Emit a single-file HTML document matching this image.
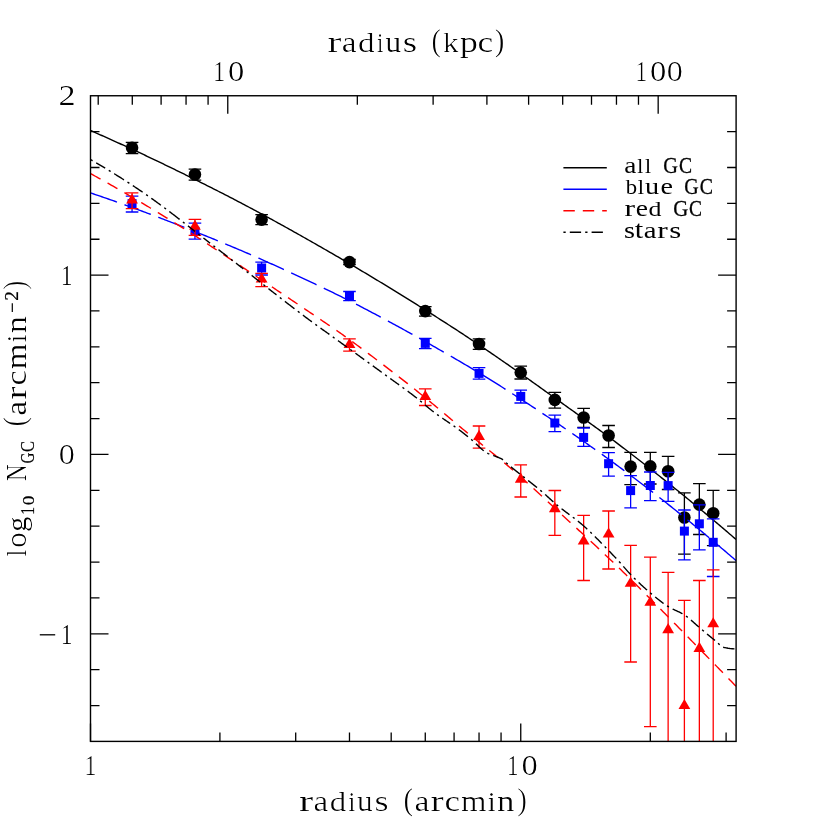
<!DOCTYPE html><html lang="en"><head><meta charset="utf-8"><title>GC radial profiles</title>
<style>html,body{margin:0;padding:0;background:#fff}svg{display:block;will-change:transform}text{font-family:"Liberation Serif",serif}</style></head><body>
<svg width="830" height="830" viewBox="0 0 830 830">
<rect width="830" height="830" fill="#fff"/>
<clipPath id="c"><rect x="90.5" y="95.75" width="645.6" height="645.65"/></clipPath>
<g clip-path="url(#c)" fill="none" stroke-width="1.4">
<g stroke-width="1.3"><path d="M132.06 142.40V153.60M125.76 142.40h12.6M125.76 153.60h12.6" stroke="#000"/><circle cx="132.06" cy="147.80" r="6.3" fill="#000"/><path d="M194.95 169.20V180.20M188.65 169.20h12.6M188.65 180.20h12.6" stroke="#000"/><circle cx="194.95" cy="174.50" r="6.3" fill="#000"/><path d="M261.62 214.60V224.70M255.32 214.60h12.6M255.32 224.70h12.6" stroke="#000"/><circle cx="261.62" cy="219.60" r="6.3" fill="#000"/><path d="M349.48 259.50V264.70M343.18 259.50h12.6M343.18 264.70h12.6" stroke="#000"/><circle cx="349.48" cy="262.10" r="6.3" fill="#000"/><path d="M425.27 306.60V316.20M418.97 306.60h12.6M418.97 316.20h12.6" stroke="#000"/><circle cx="425.27" cy="311.10" r="6.3" fill="#000"/><path d="M479.04 338.80V349.30M472.74 338.80h12.6M472.74 349.30h12.6" stroke="#000"/><circle cx="479.04" cy="344.00" r="6.3" fill="#000"/><path d="M520.75 366.10V379.00M514.45 366.10h12.6M514.45 379.00h12.6" stroke="#000"/><circle cx="520.75" cy="372.60" r="6.3" fill="#000"/><path d="M554.83 392.30V408.10M548.53 392.30h12.6M548.53 408.10h12.6" stroke="#000"/><circle cx="554.83" cy="399.90" r="6.3" fill="#000"/><path d="M583.64 408.30V427.30M577.34 408.30h12.6M577.34 427.30h12.6" stroke="#000"/><circle cx="583.64" cy="417.50" r="6.3" fill="#000"/><path d="M608.60 425.50V447.50M602.30 425.50h12.6M602.30 447.50h12.6" stroke="#000"/><circle cx="608.60" cy="435.50" r="6.3" fill="#000"/><path d="M630.62 452.30V484.70M624.32 452.30h12.6M624.32 484.70h12.6" stroke="#000"/><circle cx="630.62" cy="466.60" r="6.3" fill="#000"/><path d="M650.31 452.30V484.00M644.01 452.30h12.6M644.01 484.00h12.6" stroke="#000"/><circle cx="650.31" cy="466.40" r="6.3" fill="#000"/><path d="M668.13 456.40V489.50M661.83 456.40h12.6M661.83 489.50h12.6" stroke="#000"/><circle cx="668.13" cy="471.20" r="6.3" fill="#000"/><path d="M684.39 492.80V554.10M678.09 492.80h12.6M678.09 554.10h12.6" stroke="#000"/><circle cx="684.39" cy="517.50" r="6.3" fill="#000"/><path d="M699.35 483.60V534.50M693.05 483.60h12.6M693.05 534.50h12.6" stroke="#000"/><circle cx="699.35" cy="504.60" r="6.3" fill="#000"/><path d="M713.21 490.40V545.60M706.91 490.40h12.6M706.91 545.60h12.6" stroke="#000"/><circle cx="713.21" cy="513.20" r="6.3" fill="#000"/></g>
<path d="M90.50 130.50L92.12 131.21L93.74 131.92L95.35 132.63L96.97 133.34L98.59 134.06L100.21 134.77L101.83 135.49L103.44 136.21L105.06 136.93L106.68 137.66L108.30 138.38L109.92 139.11L111.53 139.84L113.15 140.57L114.77 141.30L116.39 142.03L118.01 142.77L119.62 143.50L121.24 144.24L122.86 144.98L124.48 145.72L126.10 146.46L127.72 147.21L129.33 147.96L130.95 148.70L132.57 149.45L134.19 150.20L135.81 150.96L137.42 151.71L139.04 152.47L140.66 153.22L142.28 153.98L143.90 154.74L145.51 155.50L147.13 156.27L148.75 157.03L150.37 157.80L151.99 158.57L153.60 159.33L155.22 160.11L156.84 160.88L158.46 161.65L160.08 162.43L161.69 163.20L163.31 163.98L164.93 164.76L166.55 165.54L168.17 166.32L169.78 167.11L171.40 167.89L173.02 168.68L174.64 169.47L176.26 170.26L177.87 171.05L179.49 171.84L181.11 172.63L182.73 173.43L184.35 174.22L185.96 175.02L187.58 175.82L189.20 176.62L190.82 177.42L192.44 178.22L194.05 179.03L195.67 179.83L197.29 180.64L198.91 181.45L200.53 182.26L202.15 183.07L203.76 183.88L205.38 184.70L207.00 185.51L208.62 186.33L210.24 187.14L211.85 187.96L213.47 188.78L215.09 189.60L216.71 190.42L218.33 191.25L219.94 192.07L221.56 192.90L223.18 193.73L224.80 194.56L226.42 195.39L228.03 196.22L229.65 197.06L231.27 197.90L232.89 198.74L234.51 199.58L236.12 200.43L237.74 201.27L239.36 202.12L240.98 202.97L242.60 203.82L244.21 204.68L245.83 205.53L247.45 206.39L249.07 207.25L250.69 208.11L252.30 208.98L253.92 209.84L255.54 210.71L257.16 211.58L258.78 212.45L260.39 213.32L262.01 214.20L263.63 215.07L265.25 215.95L266.87 216.83L268.48 217.71L270.10 218.59L271.72 219.48L273.34 220.36L274.96 221.25L276.58 222.14L278.19 223.03L279.81 223.92L281.43 224.82L283.05 225.71L284.67 226.61L286.28 227.51L287.90 228.41L289.52 229.31L291.14 230.21L292.76 231.12L294.37 232.02L295.99 232.93L297.61 233.84L299.23 234.75L300.85 235.66L302.46 236.57L304.08 237.49L305.70 238.40L307.32 239.32L308.94 240.24L310.55 241.16L312.17 242.08L313.79 243.00L315.41 243.92L317.03 244.85L318.64 245.77L320.26 246.70L321.88 247.63L323.50 248.56L325.12 249.49L326.73 250.42L328.35 251.35L329.97 252.28L331.59 253.22L333.21 254.15L334.82 255.09L336.44 256.03L338.06 256.97L339.68 257.92L341.30 258.86L342.92 259.81L344.53 260.75L346.15 261.70L347.77 262.65L349.39 263.61L351.01 264.56L352.62 265.51L354.24 266.47L355.86 267.43L357.48 268.39L359.10 269.35L360.71 270.31L362.33 271.28L363.95 272.25L365.57 273.21L367.19 274.18L368.80 275.15L370.42 276.12L372.04 277.10L373.66 278.07L375.28 279.05L376.89 280.03L378.51 281.01L380.13 281.99L381.75 282.97L383.37 283.96L384.98 284.94L386.60 285.93L388.22 286.92L389.84 287.91L391.46 288.90L393.07 289.89L394.69 290.88L396.31 291.88L397.93 292.88L399.55 293.88L401.16 294.88L402.78 295.88L404.40 296.88L406.02 297.88L407.64 298.89L409.25 299.90L410.87 300.90L412.49 301.91L414.11 302.93L415.73 303.94L417.35 304.95L418.96 305.97L420.58 306.98L422.20 308.00L423.82 309.02L425.44 310.04L427.05 311.06L428.67 312.09L430.29 313.11L431.91 314.14L433.53 315.17L435.14 316.19L436.76 317.22L438.38 318.26L440.00 319.29L441.62 320.32L443.23 321.36L444.85 322.39L446.47 323.43L448.09 324.47L449.71 325.51L451.32 326.55L452.94 327.60L454.56 328.65L456.18 329.70L457.80 330.76L459.41 331.82L461.03 332.88L462.65 333.95L464.27 335.01L465.89 336.09L467.50 337.16L469.12 338.24L470.74 339.32L472.36 340.40L473.98 341.48L475.59 342.57L477.21 343.66L478.83 344.75L480.45 345.85L482.07 346.94L483.68 348.04L485.30 349.14L486.92 350.24L488.54 351.34L490.16 352.45L491.78 353.56L493.39 354.66L495.01 355.77L496.63 356.88L498.25 357.99L499.87 359.11L501.48 360.22L503.10 361.34L504.72 362.46L506.34 363.58L507.96 364.70L509.57 365.83L511.19 366.96L512.81 368.09L514.43 369.22L516.05 370.36L517.66 371.50L519.28 372.64L520.90 373.78L522.52 374.92L524.14 376.06L525.75 377.21L527.37 378.36L528.99 379.51L530.61 380.66L532.23 381.81L533.84 382.96L535.46 384.11L537.08 385.27L538.70 386.43L540.32 387.58L541.93 388.74L543.55 389.90L545.17 391.06L546.79 392.22L548.41 393.38L550.02 394.54L551.64 395.70L553.26 396.86L554.88 398.02L556.50 399.18L558.12 400.35L559.73 401.51L561.35 402.67L562.97 403.83L564.59 404.99L566.21 406.15L567.82 407.31L569.44 408.47L571.06 409.62L572.68 410.78L574.30 411.94L575.91 413.10L577.53 414.25L579.15 415.41L580.77 416.57L582.39 417.73L584.00 418.90L585.62 420.06L587.24 421.22L588.86 422.39L590.48 423.56L592.09 424.73L593.71 425.90L595.33 427.08L596.95 428.25L598.57 429.43L600.18 430.62L601.80 431.80L603.42 432.99L605.04 434.18L606.66 435.38L608.27 436.58L609.89 437.78L611.51 438.99L613.13 440.20L614.75 441.42L616.36 442.64L617.98 443.86L619.60 445.10L621.22 446.33L622.84 447.57L624.45 448.81L626.07 450.05L627.69 451.29L629.31 452.53L630.93 453.78L632.55 455.03L634.16 456.28L635.78 457.53L637.40 458.78L639.02 460.04L640.64 461.30L642.25 462.56L643.87 463.82L645.49 465.08L647.11 466.35L648.73 467.62L650.34 468.89L651.96 470.16L653.58 471.44L655.20 472.71L656.82 473.99L658.43 475.27L660.05 476.55L661.67 477.84L663.29 479.13L664.91 480.42L666.52 481.71L668.14 483.00L669.76 484.30L671.38 485.60L673.00 486.90L674.61 488.20L676.23 489.50L677.85 490.81L679.47 492.12L681.09 493.43L682.70 494.75L684.32 496.06L685.94 497.38L687.56 498.70L689.18 500.03L690.79 501.35L692.41 502.68L694.03 504.01L695.65 505.35L697.27 506.68L698.88 508.02L700.50 509.36L702.12 510.70L703.74 512.05L705.36 513.40L706.98 514.75L708.59 516.10L710.21 517.46L711.83 518.81L713.45 520.18L715.07 521.54L716.68 522.90L718.30 524.27L719.92 525.64L721.54 527.02L723.16 528.39L724.77 529.77L726.39 531.15L728.01 532.54L729.63 533.93L731.25 535.31L732.86 536.71L734.48 538.10L736.10 539.50" stroke="#000"/>
<g stroke-width="1.3"><path d="M132.06 196.10V212.00M125.76 196.10h12.6M125.76 212.00h12.6" stroke="#00f"/><rect x="127.56" y="199.10" width="9" height="9" fill="#00f"/><path d="M194.95 223.20V239.20M188.65 223.20h12.6M188.65 239.20h12.6" stroke="#00f"/><rect x="190.45" y="226.80" width="9" height="9" fill="#00f"/><path d="M261.62 262.10V275.00M255.32 262.10h12.6M255.32 275.00h12.6" stroke="#00f"/><rect x="257.12" y="263.50" width="9" height="9" fill="#00f"/><path d="M349.48 291.50V300.70M343.18 291.50h12.6M343.18 300.70h12.6" stroke="#00f"/><rect x="344.98" y="291.40" width="9" height="9" fill="#00f"/><path d="M425.27 338.30V348.60M418.97 338.30h12.6M418.97 348.60h12.6" stroke="#00f"/><rect x="420.77" y="338.90" width="9" height="9" fill="#00f"/><path d="M479.04 367.70V379.20M472.74 367.70h12.6M472.74 379.20h12.6" stroke="#00f"/><rect x="474.54" y="368.90" width="9" height="9" fill="#00f"/><path d="M520.75 390.10V403.00M514.45 390.10h12.6M514.45 403.00h12.6" stroke="#00f"/><rect x="516.25" y="391.90" width="9" height="9" fill="#00f"/><path d="M554.83 415.20V431.60M548.53 415.20h12.6M548.53 431.60h12.6" stroke="#00f"/><rect x="550.33" y="418.50" width="9" height="9" fill="#00f"/><path d="M583.64 428.00V446.30M577.34 428.00h12.6M577.34 446.30h12.6" stroke="#00f"/><rect x="579.14" y="432.90" width="9" height="9" fill="#00f"/><path d="M608.60 452.60V476.20M602.30 452.60h12.6M602.30 476.20h12.6" stroke="#00f"/><rect x="604.10" y="459.20" width="9" height="9" fill="#00f"/><path d="M630.62 475.70V507.90M624.32 475.70h12.6M624.32 507.90h12.6" stroke="#00f"/><rect x="626.12" y="486.10" width="9" height="9" fill="#00f"/><path d="M650.31 472.00V500.70M644.01 472.00h12.6M644.01 500.70h12.6" stroke="#00f"/><rect x="645.81" y="481.00" width="9" height="9" fill="#00f"/><path d="M668.13 472.40V501.30M661.83 472.40h12.6M661.83 501.30h12.6" stroke="#00f"/><rect x="663.63" y="481.10" width="9" height="9" fill="#00f"/><path d="M684.39 510.00V559.80M678.09 510.00h12.6M678.09 559.80h12.6" stroke="#00f"/><rect x="679.89" y="526.60" width="9" height="9" fill="#00f"/><path d="M699.35 504.80V549.90M693.05 504.80h12.6M693.05 549.90h12.6" stroke="#00f"/><rect x="694.85" y="519.30" width="9" height="9" fill="#00f"/><path d="M713.21 518.90V576.50M706.91 518.90h12.6M706.91 576.50h12.6" stroke="#00f"/><rect x="708.71" y="537.80" width="9" height="9" fill="#00f"/></g>
<path d="M90.50 192.90L92.12 193.45L93.74 193.99L95.35 194.54L96.97 195.09L98.59 195.65L100.21 196.20L101.83 196.76L103.44 197.32L105.06 197.88L106.68 198.44L108.30 199.00L109.92 199.57L111.53 200.14L113.15 200.71L114.77 201.28L116.39 201.85L118.01 202.42L119.62 203.00L121.24 203.58L122.86 204.16L124.48 204.74L126.10 205.32L127.72 205.90L129.33 206.49L130.95 207.08L132.57 207.67L134.19 208.26L135.81 208.85L137.42 209.45L139.04 210.04L140.66 210.64L142.28 211.24L143.90 211.84L145.51 212.44L147.13 213.04L148.75 213.65L150.37 214.26L151.99 214.86L153.60 215.47L155.22 216.09L156.84 216.70L158.46 217.31L160.08 217.93L161.69 218.55L163.31 219.16L164.93 219.78L166.55 220.41L168.17 221.03L169.78 221.65L171.40 222.28L173.02 222.91L174.64 223.54L176.26 224.17L177.87 224.80L179.49 225.43L181.11 226.06L182.73 226.70L184.35 227.34L185.96 227.98L187.58 228.62L189.20 229.26L190.82 229.90L192.44 230.54L194.05 231.19L195.67 231.83L197.29 232.48L198.91 233.13L200.53 233.78L202.15 234.43L203.76 235.08L205.38 235.74L207.00 236.39L208.62 237.05L210.24 237.71L211.85 238.36L213.47 239.02L215.09 239.68L216.71 240.35L218.33 241.01L219.94 241.67L221.56 242.34L223.18 243.01L224.80 243.68L226.42 244.34L228.03 245.02L229.65 245.69L231.27 246.37L232.89 247.05L234.51 247.73L236.12 248.41L237.74 249.10L239.36 249.79L240.98 250.48L242.60 251.17L244.21 251.87L245.83 252.56L247.45 253.26L249.07 253.96L250.69 254.67L252.30 255.37L253.92 256.08L255.54 256.79L257.16 257.50L258.78 258.22L260.39 258.93L262.01 259.65L263.63 260.37L265.25 261.09L266.87 261.82L268.48 262.54L270.10 263.27L271.72 264.00L273.34 264.73L274.96 265.46L276.58 266.19L278.19 266.93L279.81 267.67L281.43 268.40L283.05 269.14L284.67 269.89L286.28 270.63L287.90 271.37L289.52 272.12L291.14 272.87L292.76 273.62L294.37 274.37L295.99 275.12L297.61 275.87L299.23 276.63L300.85 277.39L302.46 278.14L304.08 278.90L305.70 279.66L307.32 280.42L308.94 281.18L310.55 281.95L312.17 282.71L313.79 283.48L315.41 284.24L317.03 285.01L318.64 285.78L320.26 286.55L321.88 287.32L323.50 288.09L325.12 288.86L326.73 289.64L328.35 290.41L329.97 291.19L331.59 291.96L333.21 292.74L334.82 293.53L336.44 294.32L338.06 295.11L339.68 295.90L341.30 296.70L342.92 297.51L344.53 298.31L346.15 299.12L347.77 299.94L349.39 300.75L351.01 301.58L352.62 302.40L354.24 303.23L355.86 304.06L357.48 304.89L359.10 305.73L360.71 306.57L362.33 307.41L363.95 308.26L365.57 309.11L367.19 309.96L368.80 310.81L370.42 311.66L372.04 312.52L373.66 313.37L375.28 314.23L376.89 315.09L378.51 315.95L380.13 316.82L381.75 317.68L383.37 318.55L384.98 319.42L386.60 320.29L388.22 321.17L389.84 322.04L391.46 322.92L393.07 323.80L394.69 324.68L396.31 325.56L397.93 326.45L399.55 327.33L401.16 328.22L402.78 329.11L404.40 330.00L406.02 330.89L407.64 331.79L409.25 332.68L410.87 333.58L412.49 334.48L414.11 335.38L415.73 336.28L417.35 337.19L418.96 338.09L420.58 339.00L422.20 339.91L423.82 340.82L425.44 341.73L427.05 342.64L428.67 343.56L430.29 344.47L431.91 345.39L433.53 346.31L435.14 347.23L436.76 348.15L438.38 349.07L440.00 350.00L441.62 350.92L443.23 351.85L444.85 352.78L446.47 353.71L448.09 354.64L449.71 355.58L451.32 356.51L452.94 357.44L454.56 358.38L456.18 359.32L457.80 360.26L459.41 361.21L461.03 362.15L462.65 363.10L464.27 364.05L465.89 365.00L467.50 365.96L469.12 366.92L470.74 367.88L472.36 368.84L473.98 369.81L475.59 370.77L477.21 371.75L478.83 372.72L480.45 373.70L482.07 374.68L483.68 375.67L485.30 376.65L486.92 377.65L488.54 378.64L490.16 379.64L491.78 380.64L493.39 381.65L495.01 382.66L496.63 383.67L498.25 384.69L499.87 385.71L501.48 386.74L503.10 387.77L504.72 388.80L506.34 389.83L507.96 390.86L509.57 391.89L511.19 392.93L512.81 393.97L514.43 395.01L516.05 396.05L517.66 397.09L519.28 398.14L520.90 399.19L522.52 400.24L524.14 401.29L525.75 402.34L527.37 403.39L528.99 404.45L530.61 405.51L532.23 406.57L533.84 407.63L535.46 408.70L537.08 409.76L538.70 410.83L540.32 411.90L541.93 412.98L543.55 414.05L545.17 415.13L546.79 416.21L548.41 417.29L550.02 418.37L551.64 419.46L553.26 420.55L554.88 421.64L556.50 422.73L558.12 423.82L559.73 424.92L561.35 426.02L562.97 427.12L564.59 428.22L566.21 429.33L567.82 430.44L569.44 431.55L571.06 432.66L572.68 433.78L574.30 434.89L575.91 436.01L577.53 437.13L579.15 438.26L580.77 439.39L582.39 440.52L584.00 441.65L585.62 442.78L587.24 443.92L588.86 445.06L590.48 446.20L592.09 447.35L593.71 448.49L595.33 449.64L596.95 450.79L598.57 451.95L600.18 453.11L601.80 454.27L603.42 455.43L605.04 456.60L606.66 457.76L608.27 458.93L609.89 460.11L611.51 461.28L613.13 462.46L614.75 463.64L616.36 464.83L617.98 466.02L619.60 467.21L621.22 468.40L622.84 469.59L624.45 470.79L626.07 472.00L627.69 473.20L629.31 474.41L630.93 475.62L632.55 476.84L634.16 478.06L635.78 479.28L637.40 480.50L639.02 481.73L640.64 482.96L642.25 484.19L643.87 485.43L645.49 486.67L647.11 487.91L648.73 489.16L650.34 490.41L651.96 491.66L653.58 492.91L655.20 494.17L656.82 495.43L658.43 496.69L660.05 497.96L661.67 499.23L663.29 500.50L664.91 501.78L666.52 503.05L668.14 504.33L669.76 505.62L671.38 506.91L673.00 508.19L674.61 509.49L676.23 510.78L677.85 512.08L679.47 513.38L681.09 514.68L682.70 515.99L684.32 517.30L685.94 518.61L687.56 519.93L689.18 521.24L690.79 522.56L692.41 523.89L694.03 525.21L695.65 526.54L697.27 527.87L698.88 529.21L700.50 530.54L702.12 531.88L703.74 533.22L705.36 534.57L706.98 535.92L708.59 537.27L710.21 538.62L711.83 539.97L713.45 541.33L715.07 542.69L716.68 544.05L718.30 545.42L719.92 546.79L721.54 548.16L723.16 549.53L724.77 550.90L726.39 552.28L728.01 553.66L729.63 555.04L731.25 556.43L732.86 557.82L734.48 559.21L736.10 560.60" stroke="#00f" stroke-dasharray="28 8.02"/>
<g stroke-width="1.3"><path d="M132.06 192.90V208.60M125.76 192.90h12.6M125.76 208.60h12.6" stroke="#f00"/><path d="M132.06 193.50L137.96 203.60H126.16Z" fill="#f00"/><path d="M194.95 219.40V235.30M188.65 219.40h12.6M188.65 235.30h12.6" stroke="#f00"/><path d="M194.95 219.70L200.85 229.80H189.05Z" fill="#f00"/><path d="M261.62 273.30V286.60M255.32 273.30h12.6M255.32 286.60h12.6" stroke="#f00"/><path d="M261.62 272.50L267.52 282.60H255.72Z" fill="#f00"/><path d="M349.48 338.90V351.20M343.18 338.90h12.6M343.18 351.20h12.6" stroke="#f00"/><path d="M349.48 337.90L355.38 348.00H343.58Z" fill="#f00"/><path d="M425.27 388.90V405.50M418.97 388.90h12.6M418.97 405.50h12.6" stroke="#f00"/><path d="M425.27 390.00L431.17 400.10H419.37Z" fill="#f00"/><path d="M479.04 426.00V448.20M472.74 426.00h12.6M472.74 448.20h12.6" stroke="#f00"/><path d="M479.04 429.80L484.94 439.90H473.14Z" fill="#f00"/><path d="M520.75 464.90V497.00M514.45 464.90h12.6M514.45 497.00h12.6" stroke="#f00"/><path d="M520.75 472.60L526.65 482.70H514.85Z" fill="#f00"/><path d="M554.83 490.50V535.30M548.53 490.50h12.6M548.53 535.30h12.6" stroke="#f00"/><path d="M554.83 502.10L560.73 512.20H548.93Z" fill="#f00"/><path d="M583.64 515.40V580.50M577.34 515.40h12.6M577.34 580.50h12.6" stroke="#f00"/><path d="M583.64 534.40L589.54 544.50H577.74Z" fill="#f00"/><path d="M608.60 511.00V569.00M602.30 511.00h12.6M602.30 569.00h12.6" stroke="#f00"/><path d="M608.60 527.50L614.50 537.60H602.70Z" fill="#f00"/><path d="M630.62 545.30V662.00M624.32 545.30h12.6M624.32 662.00h12.6" stroke="#f00"/><path d="M630.62 576.70L636.52 586.80H624.72Z" fill="#f00"/><path d="M650.31 557.20V726.60M644.01 557.20h12.6M644.01 726.60h12.6" stroke="#f00"/><path d="M650.31 595.70L656.21 605.80H644.41Z" fill="#f00"/><path d="M668.13 572.30V900.00M661.83 572.30h12.6M661.83 900.00h12.6" stroke="#f00"/><path d="M668.13 623.10L674.03 633.20H662.23Z" fill="#f00"/><path d="M684.39 600.30V900.00M678.09 600.30h12.6M678.09 900.00h12.6" stroke="#f00"/><path d="M684.39 699.00L690.29 709.10H678.49Z" fill="#f00"/><path d="M699.35 580.50V900.00M693.05 580.50h12.6M693.05 900.00h12.6" stroke="#f00"/><path d="M699.35 641.80L705.25 651.90H693.45Z" fill="#f00"/><path d="M713.21 569.90V900.00M706.91 569.90h12.6M706.91 900.00h12.6" stroke="#f00"/><path d="M713.21 617.20L719.11 627.30H707.31Z" fill="#f00"/></g>
<path d="M90.50 173.60L92.12 174.48L93.74 175.36L95.35 176.25L96.97 177.14L98.59 178.03L100.21 178.92L101.83 179.82L103.44 180.72L105.06 181.62L106.68 182.53L108.30 183.44L109.92 184.35L111.53 185.27L113.15 186.18L114.77 187.10L116.39 188.03L118.01 188.95L119.62 189.88L121.24 190.81L122.86 191.75L124.48 192.68L126.10 193.62L127.72 194.56L129.33 195.51L130.95 196.45L132.57 197.40L134.19 198.35L135.81 199.31L137.42 200.26L139.04 201.22L140.66 202.18L142.28 203.14L143.90 204.11L145.51 205.07L147.13 206.04L148.75 207.02L150.37 207.99L151.99 208.96L153.60 209.94L155.22 210.92L156.84 211.90L158.46 212.89L160.08 213.87L161.69 214.86L163.31 215.85L164.93 216.84L166.55 217.83L168.17 218.83L169.78 219.82L171.40 220.82L173.02 221.82L174.64 222.82L176.26 223.83L177.87 224.83L179.49 225.84L181.11 226.85L182.73 227.86L184.35 228.87L185.96 229.89L187.58 230.91L189.20 231.95L190.82 232.98L192.44 234.03L194.05 235.07L195.67 236.13L197.29 237.18L198.91 238.24L200.53 239.30L202.15 240.37L203.76 241.44L205.38 242.51L207.00 243.59L208.62 244.66L210.24 245.74L211.85 246.82L213.47 247.89L215.09 248.97L216.71 250.05L218.33 251.13L219.94 252.21L221.56 253.29L223.18 254.36L224.80 255.44L226.42 256.51L228.03 257.58L229.65 258.66L231.27 259.73L232.89 260.80L234.51 261.87L236.12 262.95L237.74 264.02L239.36 265.10L240.98 266.17L242.60 267.25L244.21 268.33L245.83 269.41L247.45 270.48L249.07 271.56L250.69 272.64L252.30 273.72L253.92 274.80L255.54 275.88L257.16 276.96L258.78 278.04L260.39 279.12L262.01 280.20L263.63 281.29L265.25 282.37L266.87 283.45L268.48 284.54L270.10 285.62L271.72 286.70L273.34 287.79L274.96 288.87L276.58 289.96L278.19 291.05L279.81 292.13L281.43 293.22L283.05 294.30L284.67 295.39L286.28 296.48L287.90 297.57L289.52 298.65L291.14 299.74L292.76 300.83L294.37 301.92L295.99 303.01L297.61 304.10L299.23 305.19L300.85 306.28L302.46 307.37L304.08 308.46L305.70 309.55L307.32 310.64L308.94 311.73L310.55 312.82L312.17 313.91L313.79 315.00L315.41 316.09L317.03 317.18L318.64 318.28L320.26 319.37L321.88 320.46L323.50 321.55L325.12 322.63L326.73 323.71L328.35 324.80L329.97 325.89L331.59 326.98L333.21 328.09L334.82 329.21L336.44 330.34L338.06 331.48L339.68 332.63L341.30 333.78L342.92 334.93L344.53 336.09L346.15 337.25L347.77 338.41L349.39 339.58L351.01 340.76L352.62 341.93L354.24 343.11L355.86 344.29L357.48 345.48L359.10 346.67L360.71 347.86L362.33 349.06L363.95 350.26L365.57 351.46L367.19 352.67L368.80 353.88L370.42 355.09L372.04 356.30L373.66 357.52L375.28 358.74L376.89 359.96L378.51 361.19L380.13 362.42L381.75 363.65L383.37 364.88L384.98 366.12L386.60 367.35L388.22 368.60L389.84 369.84L391.46 371.08L393.07 372.33L394.69 373.58L396.31 374.83L397.93 376.08L399.55 377.34L401.16 378.60L402.78 379.86L404.40 381.12L406.02 382.38L407.64 383.65L409.25 384.92L410.87 386.20L412.49 387.48L414.11 388.77L415.73 390.07L417.35 391.36L418.96 392.67L420.58 393.98L422.20 395.29L423.82 396.61L425.44 397.93L427.05 399.25L428.67 400.57L430.29 401.90L431.91 403.23L433.53 404.56L435.14 405.90L436.76 407.23L438.38 408.57L440.00 409.92L441.62 411.28L443.23 412.64L444.85 414.01L446.47 415.38L448.09 416.75L449.71 418.13L451.32 419.50L452.94 420.87L454.56 422.24L456.18 423.60L457.80 424.96L459.41 426.31L461.03 427.66L462.65 428.99L464.27 430.32L465.89 431.65L467.50 432.97L469.12 434.29L470.74 435.60L472.36 436.91L473.98 438.21L475.59 439.52L477.21 440.82L478.83 442.12L480.45 443.42L482.07 444.71L483.68 446.01L485.30 447.31L486.92 448.61L488.54 449.92L490.16 451.22L491.78 452.53L493.39 453.84L495.01 455.15L496.63 456.47L498.25 457.79L499.87 459.12L501.48 460.45L503.10 461.79L504.72 463.14L506.34 464.50L507.96 465.86L509.57 467.23L511.19 468.61L512.81 470.00L514.43 471.40L516.05 472.81L517.66 474.23L519.28 475.66L520.90 477.11L522.52 478.55L524.14 480.01L525.75 481.46L527.37 482.93L528.99 484.39L530.61 485.86L532.23 487.33L533.84 488.79L535.46 490.27L537.08 491.74L538.70 493.23L540.32 494.71L541.93 496.21L543.55 497.70L545.17 499.20L546.79 500.70L548.41 502.20L550.02 503.70L551.64 505.21L553.26 506.71L554.88 508.21L556.50 509.72L558.12 511.22L559.73 512.72L561.35 514.22L562.97 515.71L564.59 517.20L566.21 518.69L567.82 520.19L569.44 521.68L571.06 523.16L572.68 524.65L574.30 526.14L575.91 527.63L577.53 529.12L579.15 530.61L580.77 532.10L582.39 533.59L584.00 535.09L585.62 536.58L587.24 538.08L588.86 539.58L590.48 541.08L592.09 542.58L593.71 544.09L595.33 545.60L596.95 547.11L598.57 548.62L600.18 550.13L601.80 551.65L603.42 553.16L605.04 554.68L606.66 556.20L608.27 557.72L609.89 559.24L611.51 560.77L613.13 562.31L614.75 563.85L616.36 565.40L617.98 566.95L619.60 568.51L621.22 570.08L622.84 571.65L624.45 573.23L626.07 574.81L627.69 576.39L629.31 577.98L630.93 579.57L632.55 581.16L634.16 582.76L635.78 584.36L637.40 585.96L639.02 587.57L640.64 589.18L642.25 590.79L643.87 592.40L645.49 594.02L647.11 595.63L648.73 597.26L650.34 598.88L651.96 600.50L653.58 602.13L655.20 603.76L656.82 605.39L658.43 607.03L660.05 608.66L661.67 610.30L663.29 611.94L664.91 613.58L666.52 615.22L668.14 616.86L669.76 618.51L671.38 620.15L673.00 621.80L674.61 623.45L676.23 625.10L677.85 626.75L679.47 628.40L681.09 630.05L682.70 631.70L684.32 633.35L685.94 635.00L687.56 636.66L689.18 638.31L690.79 639.96L692.41 641.62L694.03 643.27L695.65 644.92L697.27 646.57L698.88 648.23L700.50 649.88L702.12 651.53L703.74 653.18L705.36 654.83L706.98 656.48L708.59 658.13L710.21 659.78L711.83 661.43L713.45 663.08L715.07 664.73L716.68 666.38L718.30 668.03L719.92 669.69L721.54 671.34L723.16 673.00L724.77 674.66L726.39 676.32L728.01 677.98L729.63 679.65L731.25 681.31L732.86 682.97L734.48 684.64L736.10 686.30" stroke="#f00" stroke-dasharray="11.4 8.05"/>
<path d="M90.65 159.68L91.51 160.18L92.38 160.68L92.55 160.78M96.19 162.88L97.05 163.39L97.92 163.89L98.78 164.40L99.64 164.90L100.50 165.41L101.36 165.92L102.22 166.43L103.08 166.94L103.94 167.45L104.80 167.97L105.17 168.19M108.76 170.36L109.61 170.88L110.47 171.40L110.64 171.50M114.22 173.71L115.07 174.23L115.92 174.76L116.76 175.29L117.61 175.82L118.46 176.35L119.31 176.88L120.15 177.42L121.00 177.95L121.84 178.49L122.68 179.02L123.53 179.56L123.95 179.83M127.48 182.10L128.32 182.65L129.15 183.19L129.32 183.30M132.83 185.61L133.67 186.16L134.50 186.71L135.33 187.26L136.17 187.82L137.00 188.37L137.83 188.93L138.66 189.49L139.49 190.05L140.32 190.61L141.14 191.17L141.97 191.73L142.64 192.19M146.10 194.58L146.92 195.15L147.74 195.73L147.90 195.84M151.33 198.27L152.14 198.85L152.95 199.44L153.77 200.02L154.58 200.60L155.39 201.19L156.19 201.78L157.00 202.37L157.81 202.96L158.62 203.55L159.42 204.14L160.23 204.73L160.85 205.19M164.22 207.70L165.02 208.30L165.82 208.90L165.98 209.02M169.33 211.54L170.13 212.15L170.93 212.75L171.72 213.36L172.52 213.96L173.31 214.57L174.11 215.18L174.90 215.79L175.70 216.39L176.49 217.00L177.28 217.61L178.07 218.22L178.87 218.83L179.61 219.41M182.93 221.98L183.72 222.59L184.51 223.20L184.67 223.33M187.98 225.91L188.77 226.52L189.56 227.14L190.35 227.75L191.14 228.37L191.93 228.98L192.71 229.60L193.50 230.21L194.29 230.83L195.02 231.40M198.33 233.99L199.12 234.61L199.91 235.22L200.07 235.35M203.38 237.93L204.16 238.55L204.95 239.16L205.74 239.78L206.53 240.39L207.32 241.01L208.11 241.62L208.90 242.23L209.69 242.85L210.11 243.17M213.43 245.75L214.22 246.36L215.01 246.97L215.17 247.09M218.50 249.65L219.29 250.26L220.09 250.87L220.88 251.48L221.68 252.08L222.47 252.69L223.26 253.30L224.06 253.91L224.85 254.52L225.64 255.13L226.43 255.74L227.22 256.35L227.61 256.65M230.93 259.22L231.72 259.83L232.51 260.45L232.67 260.57M235.98 263.15L236.77 263.76L237.56 264.38L238.35 264.99L239.14 265.61L239.93 266.22L240.71 266.84L241.50 267.45L242.29 268.07L243.08 268.69L243.33 268.88M246.63 271.47L247.42 272.09L248.21 272.71L248.37 272.83M251.67 275.42L252.46 276.04L253.24 276.66L254.03 277.28L254.81 277.89L255.60 278.51L256.39 279.13L257.17 279.75L257.96 280.37L258.75 280.98L259.53 281.60L260.13 282.07M263.43 284.66L264.22 285.28L265.01 285.90L265.17 286.02M268.47 288.61L269.26 289.23L270.05 289.85L270.83 290.46L271.62 291.08L272.41 291.70L273.20 292.31L273.98 292.93L274.77 293.54L275.56 294.16L276.35 294.77L276.52 294.90M279.83 297.48L280.62 298.09L281.41 298.71L281.57 298.83M284.89 301.40L285.68 302.01L286.47 302.62L287.26 303.23L288.06 303.85L288.85 304.46L289.64 305.06L290.44 305.67L291.23 306.28L292.02 306.89L292.82 307.50L293.61 308.11L294.41 308.71L294.48 308.77M297.82 311.31L298.62 311.92L299.42 312.52L299.58 312.64M302.93 315.17L303.73 315.77L304.53 316.37L305.33 316.97L306.13 317.57L306.93 318.17L307.74 318.76L308.54 319.36L309.34 319.96L310.14 320.55L310.95 321.14L311.76 321.74L311.91 321.85M315.31 324.33L316.12 324.91L316.93 325.50L317.09 325.61M320.50 328.06L321.32 328.64L322.13 329.23L322.94 329.81L323.76 330.39L324.57 330.97L325.39 331.55L326.20 332.13L327.01 332.72L327.82 333.30L328.64 333.88L329.40 334.43M332.81 336.88L333.62 337.47L334.43 338.06L334.59 338.17M338.00 340.63L338.81 341.22L339.62 341.80L340.43 342.39L341.24 342.97L342.05 343.56L342.86 344.15L343.67 344.73L344.48 345.32L345.29 345.90L346.10 346.49L346.80 347.00M350.21 349.46L351.02 350.04L351.83 350.63L351.99 350.75M355.39 353.21L356.20 353.79L357.02 354.38L357.83 354.97L358.64 355.55L359.45 356.14L360.26 356.72L361.07 357.31L361.88 357.90L362.69 358.48L363.49 359.07L364.21 359.59M367.61 362.05L368.42 362.64L369.23 363.23L369.39 363.35M372.79 365.81L373.60 366.40L374.41 366.99L375.21 367.58L376.02 368.17L376.83 368.76L377.64 369.34L378.45 369.93L379.26 370.52L380.07 371.11L380.87 371.70L381.68 372.29L381.72 372.32M385.11 374.79L385.92 375.38L386.73 375.97L386.89 376.08M390.29 378.54L391.11 379.13L391.92 379.71L392.73 380.30L393.54 380.88L394.35 381.47L395.16 382.05L395.98 382.63L396.79 383.22L397.60 383.80L398.41 384.39L399.11 384.89M402.51 387.36L403.32 387.95L404.13 388.54L404.29 388.66M407.67 391.15L408.47 391.75L409.27 392.35L410.07 392.95L410.87 393.55L411.67 394.15L412.46 394.76L413.26 395.37L414.05 395.98L414.84 396.59L415.63 397.20L416.42 397.82L416.90 398.19M420.16 400.85L420.92 401.49L421.69 402.13L421.84 402.26M425.04 404.98L425.81 405.63L426.57 406.27L427.34 406.91L428.10 407.55L428.87 408.19L429.65 408.82L430.43 409.45L431.21 410.07L432.00 410.69L432.79 411.30L433.59 411.90L433.72 412.00M437.11 414.49L437.92 415.07L438.73 415.65L438.90 415.76M442.34 418.16L443.17 418.73L443.99 419.29L444.82 419.86L445.65 420.42L446.47 420.98L447.30 421.54L448.13 422.11L448.95 422.67L449.78 423.23L450.14 423.48M453.60 425.87L454.42 426.44L455.23 427.02L455.40 427.14M458.80 429.60L459.60 430.20L460.40 430.80L461.19 431.41L461.99 432.02L462.78 432.63L463.57 433.25L464.35 433.86L465.13 434.48L465.92 435.11L466.70 435.73L467.48 436.36L467.91 436.71M471.17 439.37L471.92 440.02L472.67 440.68L472.82 440.82M475.89 443.69L476.61 444.38L477.33 445.07L478.05 445.76L478.78 446.45L479.51 447.14L480.24 447.81L480.99 448.48L481.74 449.14L482.50 449.79L483.28 450.42L483.79 450.82M487.31 453.10L488.21 453.54L489.13 453.93L489.31 454.01M493.26 455.43L494.20 455.80L495.12 456.17L496.06 456.53L496.99 456.88L497.92 457.25L498.85 457.62L499.77 458.02L500.67 458.44L501.56 458.90L502.43 459.40L503.03 459.79M506.09 462.65L506.82 463.33L507.58 463.99L507.73 464.12M510.95 466.82L511.72 467.45L512.50 468.09L513.27 468.72L514.05 469.35L514.83 469.97L515.61 470.60L516.39 471.22L517.18 471.84L517.96 472.46L518.75 473.08L519.54 473.70L519.84 473.94M523.14 476.54L523.92 477.16L524.70 477.78L524.86 477.91M528.15 480.52L528.93 481.14L529.72 481.76L530.50 482.38L531.29 483.00L532.07 483.62L532.86 484.24L533.64 484.86L534.42 485.49L535.20 486.11L535.98 486.74L536.76 487.37L537.01 487.57M540.26 490.24L541.02 490.88L541.79 491.53L541.94 491.66M545.10 494.43L545.84 495.09L546.58 495.76L547.32 496.44L548.06 497.11L548.80 497.78L549.54 498.46L550.28 499.13L551.02 499.80L551.76 500.47L552.51 501.14L553.25 501.81L553.38 501.92M556.55 504.66L557.32 505.30L558.10 505.94L558.25 506.06M561.54 508.68L562.33 509.29L563.12 509.90L563.91 510.51L564.71 511.12L565.51 511.72L566.30 512.32L567.10 512.92L567.91 513.52L568.71 514.12L569.47 514.69M572.82 517.21L573.62 517.81L574.42 518.42L574.57 518.54M577.89 521.12L578.67 521.75L579.45 522.38L580.22 523.01L580.99 523.65L581.76 524.29L582.52 524.94L583.27 525.59L584.03 526.25L584.77 526.91L585.52 527.58L586.26 528.25L587.00 528.93L587.25 529.17M590.31 532.05L591.03 532.75L591.75 533.44L591.89 533.58M594.88 536.53L595.59 537.23L596.30 537.94L597.00 538.65L597.71 539.36L598.41 540.07L599.12 540.78L599.82 541.49L600.52 542.20L601.23 542.91L601.78 543.47M604.73 546.46L605.43 547.18L606.13 547.89L606.27 548.04M609.18 551.06L609.87 551.78L610.56 552.51L611.25 553.23L611.94 553.96L612.63 554.68L613.31 555.41L614.00 556.14L614.68 556.87L615.37 557.60L616.05 558.33L616.20 558.49M619.05 561.57L619.73 562.31L620.41 563.05L620.54 563.19M623.33 566.34L623.98 567.09L624.64 567.85L625.30 568.60L625.95 569.36L626.61 570.11L627.27 570.86L627.94 571.61L628.61 572.35L629.28 573.09L629.96 573.82L630.65 574.54L631.07 574.97M634.02 577.96L634.73 578.66L635.44 579.36L635.58 579.50M638.61 582.42L639.33 583.11L640.06 583.79L640.79 584.47L641.53 585.15L642.26 585.83L643.01 586.50L643.75 587.17L644.49 587.84L645.24 588.50L645.99 589.16L646.75 589.81L647.06 590.08M650.26 592.81L651.02 593.45L651.79 594.10L651.94 594.22M655.17 596.92L655.94 597.55L656.71 598.18L657.49 598.81L658.27 599.44L659.06 600.06L659.84 600.67L660.64 601.28L661.43 601.89L662.23 602.48L663.04 603.08L663.61 603.48M667.07 605.86L667.92 606.39L668.77 606.92L668.94 607.02M672.63 609.01L673.54 609.45L674.44 609.87L675.35 610.28L676.26 610.69L677.17 611.11L678.08 611.52L678.99 611.94L679.89 612.38L680.79 612.83L681.67 613.29L682.48 613.74M686.02 616.00L686.82 616.60L687.61 617.21L687.77 617.33M690.99 620.03L691.74 620.69L692.48 621.36L693.23 622.02L693.97 622.69L694.71 623.36L695.46 624.03L696.20 624.70L696.95 625.36L697.70 626.02L698.46 626.67L698.95 627.09M702.16 629.80L702.92 630.45L703.69 631.09L703.84 631.22M707.04 633.95L707.80 634.59L708.56 635.24L709.33 635.88L710.10 636.52L710.87 637.16L711.64 637.79L712.42 638.42L713.20 639.05L713.98 639.67L714.76 640.29L714.97 640.46M718.09 643.27L718.83 643.95L719.57 644.61L719.73 644.74M723.17 647.12L724.10 647.48L725.08 647.69L726.06 647.88L727.05 648.05L728.03 648.22L729.02 648.36L730.01 648.50L731.01 648.61L732.00 648.71L733.00 648.79L734.00 648.85L734.50 648.87" stroke="#000"/>
</g>
<path d="M219.91 741.4v-9.0M295.70 741.4v-9.0M349.48 741.4v-9.0M391.19 741.4v-9.0M425.27 741.4v-9.0M454.08 741.4v-9.0M479.04 741.4v-9.0M501.06 741.4v-9.0M650.31 741.4v-9.0M726.10 741.4v-9.0M520.75 741.4v-18.0M90.5 741.4v-18.0M98.21 95.75v9.0M132.29 95.75v9.0M161.10 95.75v9.0M186.06 95.75v9.0M208.08 95.75v9.0M357.33 95.75v9.0M433.12 95.75v9.0M486.90 95.75v9.0M528.61 95.75v9.0M562.69 95.75v9.0M591.50 95.75v9.0M616.46 95.75v9.0M638.48 95.75v9.0M227.77 95.75v18.0M658.17 95.75v18.0M90.5 705.53h9.0M736.1 705.53h-9.0M90.5 669.66h9.0M736.1 669.66h-9.0M90.5 633.79h18.0M736.1 633.79h-18.0M90.5 597.92h9.0M736.1 597.92h-9.0M90.5 562.05h9.0M736.1 562.05h-9.0M90.5 526.18h9.0M736.1 526.18h-9.0M90.5 490.31h9.0M736.1 490.31h-9.0M90.5 454.44h18.0M736.1 454.44h-18.0M90.5 418.57h9.0M736.1 418.57h-9.0M90.5 382.71h9.0M736.1 382.71h-9.0M90.5 346.84h9.0M736.1 346.84h-9.0M90.5 310.97h9.0M736.1 310.97h-9.0M90.5 275.10h18.0M736.1 275.10h-18.0M90.5 239.23h9.0M736.1 239.23h-9.0M90.5 203.36h9.0M736.1 203.36h-9.0M90.5 167.49h9.0M736.1 167.49h-9.0M90.5 131.62h9.0M736.1 131.62h-9.0" stroke="#000" stroke-width="1.3" fill="none"/>
<rect x="90.5" y="95.75" width="645.60" height="645.65" fill="none" stroke="#000" stroke-width="1.4"/>
<path d="M39.8 634.8H55.2" stroke="#000" stroke-width="1.3"/>
<defs><g id="hl">
<text transform="matrix(0.8573 0 0 1.0000 213.02 81.30)" font-size="28.5">1</text><text transform="matrix(1.1420 0 0 1.0000 227.93 81.30)" font-size="28.5">0</text>
<text transform="matrix(0.8573 0 0 1.0000 635.12 81.30)" font-size="28.5">1</text><text transform="matrix(1.1420 0 0 1.0000 650.03 81.30)" font-size="28.5">0</text><text transform="matrix(1.1420 0 0 1.0000 666.63 81.30)" font-size="28.5">0</text>
<text transform="matrix(0.8573 0 0 1.0000 84.25 775.00)" font-size="28.5">1</text>
<text transform="matrix(0.8573 0 0 1.0000 506.60 775.00)" font-size="28.5">1</text><text transform="matrix(1.1420 0 0 1.0000 521.51 775.00)" font-size="28.5">0</text>
<text transform="matrix(1.1988 0 0 1.0000 58.50 105.10)" font-size="28.5">2</text>
<text transform="matrix(0.8573 0 0 1.0000 60.45 284.90)" font-size="28.5">1</text>
<text transform="matrix(1.1420 0 0 1.0000 58.61 463.60)" font-size="28.5">0</text>
<text transform="matrix(0.8573 0 0 1.0000 60.45 643.50)" font-size="28.5">1</text>
<text transform="matrix(1.4889 0 0 1.0131 327.35 51.60)" font-size="28.5">r</text><text transform="matrix(1.1726 0 0 1.0175 341.73 51.60)" font-size="28.5">a</text><text transform="matrix(1.1644 0 0 0.9909 358.01 51.60)" font-size="28.5">d</text><text transform="matrix(0.8993 0 0 0.9869 376.66 51.60)" font-size="28.5">i</text><text transform="matrix(1.1198 0 0 1.0396 385.29 51.60)" font-size="28.5">u</text><text transform="matrix(1.2933 0 0 1.0131 402.79 51.60)" font-size="28.5">s</text>
<text transform="matrix(0.8894 0 0 1.0000 431.47 50.60)" font-size="31.5">(</text>
<text transform="matrix(1.1015 0 0 0.9909 442.90 51.60)" font-size="28.5">k</text><text transform="matrix(1.2774 0 0 1.0131 459.82 51.60)" font-size="28.5">p</text><text transform="matrix(1.2351 0 0 1.0131 477.46 51.60)" font-size="28.5">c</text>
<text transform="matrix(0.9141 0 0 1.0000 494.78 50.60)" font-size="31.5">)</text>
<text transform="matrix(1.4889 0 0 1.0131 298.95 810.50)" font-size="28.5">r</text><text transform="matrix(1.1726 0 0 1.0175 313.33 810.50)" font-size="28.5">a</text><text transform="matrix(1.1644 0 0 0.9909 329.61 810.50)" font-size="28.5">d</text><text transform="matrix(0.8993 0 0 0.9869 348.26 810.50)" font-size="28.5">i</text><text transform="matrix(1.1198 0 0 1.0396 356.89 810.50)" font-size="28.5">u</text><text transform="matrix(1.2933 0 0 1.0131 374.39 810.50)" font-size="28.5">s</text>
<text transform="matrix(0.9141 0 0 1.0000 403.43 809.50)" font-size="31.5">(</text>
<text transform="matrix(1.1814 0 0 1.0175 414.52 810.50)" font-size="28.5">a</text><text transform="matrix(1.4197 0 0 1.0131 430.39 810.50)" font-size="28.5">r</text><text transform="matrix(1.2257 0 0 1.0131 444.57 810.50)" font-size="28.5">c</text><text transform="matrix(1.1554 0 0 1.0131 460.91 810.50)" font-size="28.5">m</text><text transform="matrix(1.0467 0 0 0.9869 487.57 810.50)" font-size="28.5">i</text><text transform="matrix(1.2152 0 0 1.0131 497.00 810.50)" font-size="28.5">n</text>
<text transform="matrix(0.9388 0 0 1.0000 517.15 809.50)" font-size="31.5">)</text>
</g><g id="vl"><g transform="translate(25.8 556.3) rotate(-90)">
<text transform="matrix(0.8698 0 0 0.9909 -0.30 0.00)" font-size="28.5">l</text><text transform="matrix(1.0924 0 0 1.0131 8.42 0.00)" font-size="28.5">o</text><text transform="matrix(1.0815 0 0 0.9302 24.37 0.00)" font-size="28.5">g</text>
<text transform="matrix(0.8327 0 0 1.0000 75.01 0.00)" font-size="28.5">N</text>
<text transform="matrix(0.9264 0 0 1.0000 129.72 -1.00)" font-size="31.5">(</text>
<text transform="matrix(1.1814 0 0 1.0175 140.62 0.00)" font-size="28.5">a</text><text transform="matrix(1.4197 0 0 1.0131 156.49 0.00)" font-size="28.5">r</text><text transform="matrix(1.2257 0 0 1.0131 170.67 0.00)" font-size="28.5">c</text><text transform="matrix(1.1554 0 0 1.0131 187.01 0.00)" font-size="28.5">m</text><text transform="matrix(1.0467 0 0 0.9869 213.67 0.00)" font-size="28.5">i</text><text transform="matrix(1.2152 0 0 1.0131 223.10 0.00)" font-size="28.5">n</text>
<text transform="matrix(0.8400 0 0 1.0000 266.65 -1.00)" font-size="31.5">)</text>
</g></g>
<mask id="mh" maskUnits="userSpaceOnUse" x="0" y="0" width="830" height="830"><use href="#hl" x="-0.3" fill="#fff"/></mask>
<mask id="mv" maskUnits="userSpaceOnUse" x="0" y="0" width="830" height="830"><use href="#vl" y="0.3" fill="#fff"/></mask></defs>
<g mask="url(#mh)"><use href="#hl" x="0.3"/></g>
<g mask="url(#mv)"><use href="#vl" y="-0.3"/></g>
<g transform="translate(25.8 556.3) rotate(-90)">
<text transform="matrix(0.8929 0 0 1.0216 41.62 8.20)" font-size="17.5" stroke="#000" stroke-width="0.2">1</text>
<text transform="matrix(1.1051 0 0 1.0140 50.97 8.20)" font-size="17.5" stroke="#000" stroke-width="0.2">0</text>
<text transform="matrix(0.8233 0 0 1.0207 92.88 8.40)" font-size="18.5" stroke="#000" stroke-width="0.2">G</text>
<text transform="matrix(0.8899 0 0 1.0207 104.23 8.40)" font-size="18.5" stroke="#000" stroke-width="0.2">C</text>
<path d="M244.4 -13.5H253" stroke="#000" stroke-width="1.2"/>
<text transform="matrix(1.0788 0 0 1.0184 255.56 -8.00)" font-size="17.8" stroke="#000" stroke-width="0.2">2</text>
</g>
<path d="M563.4 167.7H606.8" stroke="#000" stroke-width="1.4"/>
<path d="M563.4 189.2H606.8" stroke="#00f" stroke-width="1.4"/>
<path d="M563.4 210.7H606.8" stroke="#f00" stroke-width="1.4" stroke-dasharray="11.4 8"/>
<path d="M563.4 232.2H606.8" stroke="#000" stroke-width="1.4" stroke-dasharray="2.3 4.1 11.3 4.1"/>
<text transform="matrix(1.2658 0 0 1.0661 624.14 173.00)" font-size="21.6">a</text><text transform="matrix(0.9921 0 0 0.9740 637.37 173.00)" font-size="21.6">l</text><text transform="matrix(1.0115 0 0 0.9740 645.06 173.00)" font-size="21.6">l</text><text transform="matrix(0.9402 0 0 1.0280 663.17 173.00)" font-size="21.6" stroke="#000" stroke-width="0.3">G</text><text transform="matrix(0.9081 0 0 1.0280 679.10 173.00)" font-size="21.6" stroke="#000" stroke-width="0.3">C</text>
<text transform="matrix(1.0522 0 0 0.9740 625.80 194.30)" font-size="21.6">b</text><text transform="matrix(1.0504 0 0 0.9740 637.65 194.30)" font-size="21.6">l</text><text transform="matrix(1.3101 0 0 1.0893 644.93 194.30)" font-size="21.6">u</text><text transform="matrix(1.3013 0 0 1.0616 660.50 194.30)" font-size="21.6">e</text><text transform="matrix(0.9259 0 0 1.0280 684.28 194.30)" font-size="21.6" stroke="#000" stroke-width="0.3">G</text><text transform="matrix(0.9162 0 0 1.0280 699.69 194.30)" font-size="21.6" stroke="#000" stroke-width="0.3">C</text>
<text transform="matrix(1.4620 0 0 1.0616 624.47 216.00)" font-size="21.6">r</text><text transform="matrix(1.2763 0 0 1.0616 635.82 216.00)" font-size="21.6">e</text><text transform="matrix(1.1984 0 0 0.9740 648.57 216.00)" font-size="21.6">d</text><text transform="matrix(0.9615 0 0 1.0280 673.15 216.00)" font-size="21.6" stroke="#000" stroke-width="0.3">G</text><text transform="matrix(0.9000 0 0 1.0280 689.10 216.00)" font-size="21.6" stroke="#000" stroke-width="0.3">C</text>
<text transform="matrix(1.3058 0 0 1.0616 623.94 237.70)" font-size="21.6">s</text><text transform="matrix(1.4136 0 0 1.1886 634.79 237.70)" font-size="21.6">t</text><text transform="matrix(1.3361 0 0 1.0661 643.69 237.70)" font-size="21.6">a</text><text transform="matrix(1.4620 0 0 1.0616 657.37 237.70)" font-size="21.6">r</text><text transform="matrix(1.4245 0 0 1.0616 669.34 237.70)" font-size="21.6">s</text>
</svg></body></html>
